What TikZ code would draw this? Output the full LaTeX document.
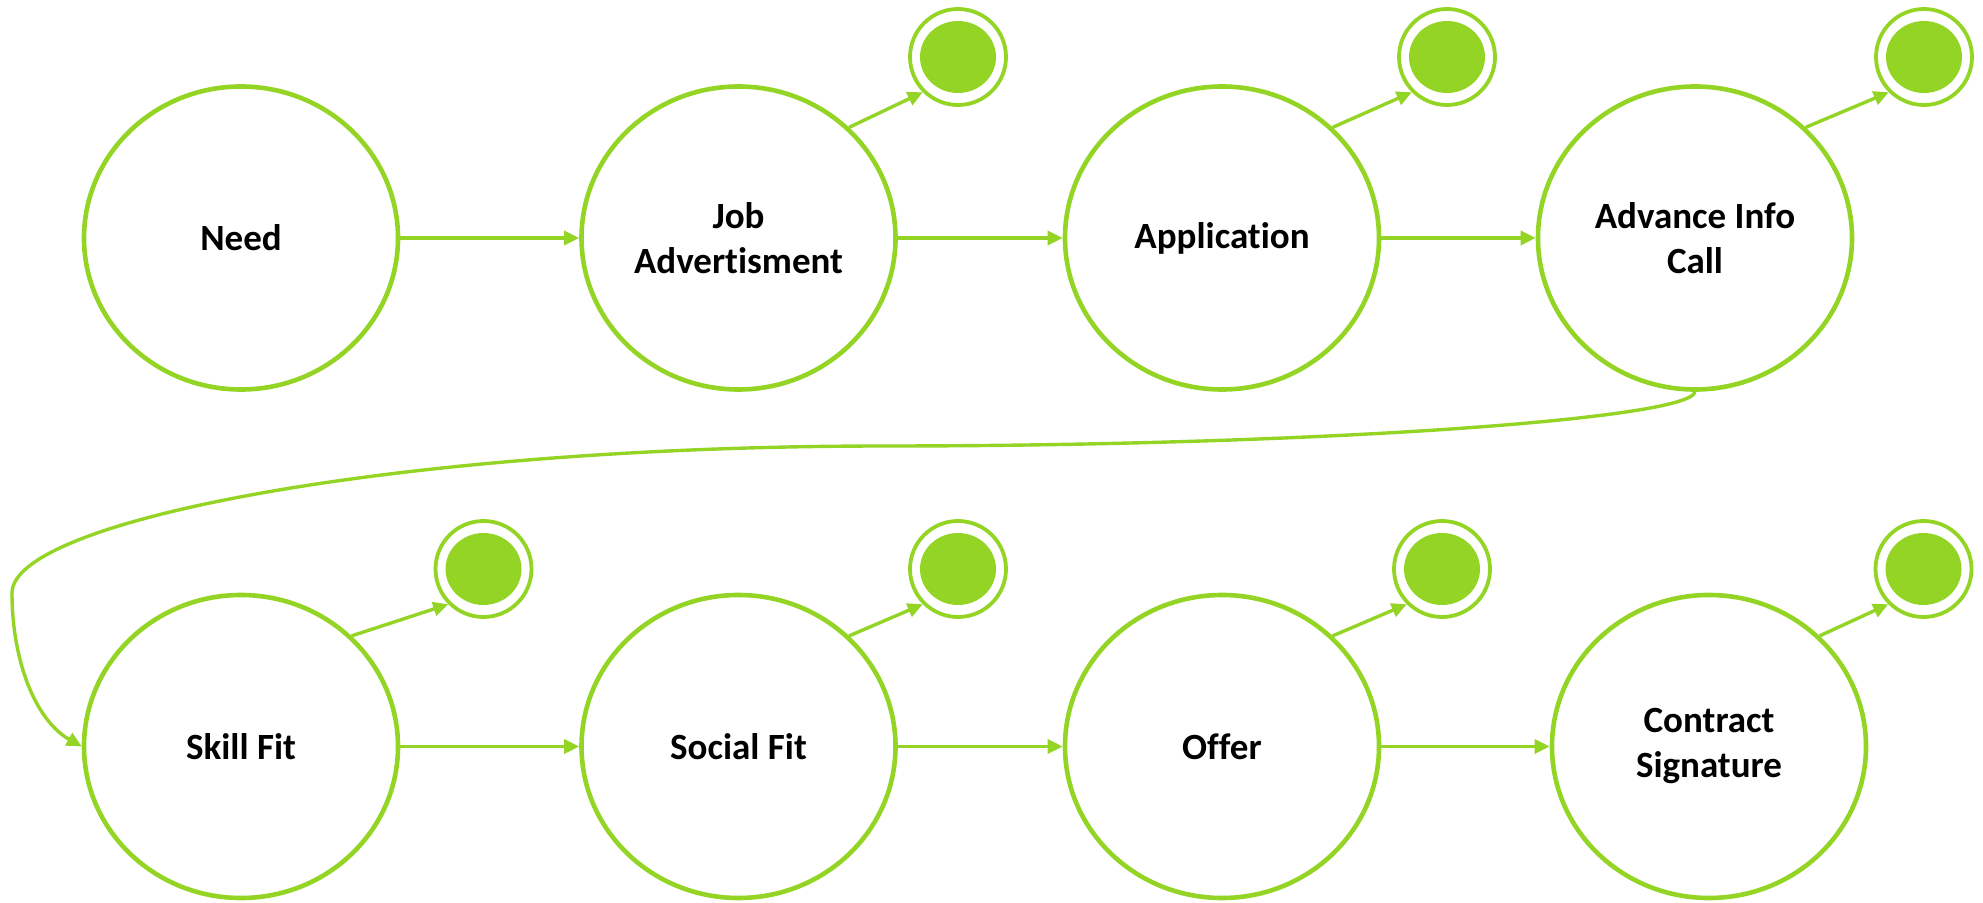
\documentclass[tikz,border=0pt]{standalone}
\usepackage{fontspec}
\setmainfont{Carlito}[Ligatures=NoCommon]
\usetikzlibrary{shapes.geometric,arrows.meta}
\definecolor{grn}{HTML}{94D424}
\tikzset{
  state/.style={ellipse, draw=grn, line width=2.3pt, fill=white, inner sep=0pt,
    minimum width=157pt, minimum height=151.5pt, align=center,
    font=\fontsize{18.5pt}{22.5pt}\selectfont\bfseries},
  endring/.style={circle, draw=grn, line width=1.9pt, inner sep=0pt, minimum size=48pt},
  conn/.style={draw=grn, line width=1.7pt, -{Triangle[length=7.5pt,width=7pt]}},
  curveconn/.style={draw=grn, line width=1.7pt, -{Triangle[length=7.5pt,width=7pt]}}
}
\begin{document}
\begin{tikzpicture}[x=0.5pt,y=-0.5pt]
\useasboundingbox (0,0) rectangle (1983,903);
% main states
\node[state] (need) at (241,238) {Need};
\node[state] (ja) at (738.5,238) {Job\\Advertisment};
\node[state] (app) at (1222,238) {Application};
\node[state] (adv) at (1695,238) {Advance Info\\Call};
\node[state] (skill) at (241,746.5) {Skill Fit};
\node[state] (social) at (738.5,746.5) {Social Fit};
\node[state] (offer) at (1222,746.5) {Offer};
\node[state] (contract) at (1709,746.5) {Contract\\Signature};
% end states
\foreach \n/\x/\y in {eja/958/57, eapp/1447/57, eadv/1924/57,
                      eskill/483.5/569, esocial/958/569, eoffer/1442/569, econtract/1923.5/569}{
  \node[endring] (\n) at (\x,\y) {};
  \fill[grn] (\n.center) ellipse [x radius=19pt, y radius=18pt];
}
% horizontal transitions
\draw[conn] (need.east) -- (ja.west);
\draw[conn] (ja.east) -- (app.west);
\draw[conn] (app.east) -- (adv.west);
\draw[conn] (skill.east) -- (social.west);
\draw[conn] (social.east) -- (offer.west);
\draw[conn] (offer.east) -- (contract.west);
% to end states
\draw[conn] (ja.45) -- (eja.225);
\draw[conn] (app.45) -- (eapp.225);
\draw[conn] (adv.45) -- (eadv.225);
\draw[conn] (skill.45) -- (eskill.225);
\draw[conn] (social.45) -- (esocial.225);
\draw[conn] (offer.45) -- (eoffer.225);
\draw[conn] (contract.45) -- (econtract.225);
% long curved connector
\draw[curveconn] (adv.south) .. controls (1690,420) and (1300,446) .. (885,446)
  .. controls (400,446) and (12,520) .. (12,593)
  .. controls (12,660) and (35,720) .. (skill.west);
\end{tikzpicture}
\end{document}
